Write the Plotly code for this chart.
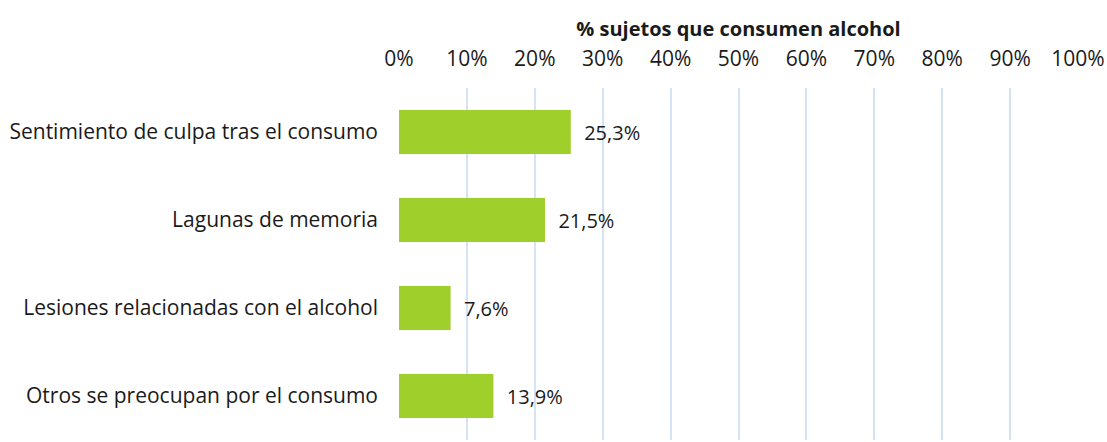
import plotly.graph_objects as go

categories = [
    "Sentimiento de culpa tras el consumo",
    "Lagunas de memoria",
    "Lesiones relacionadas con el alcohol",
    "Otros se preocupan por el consumo",
]
values = [25.3, 21.5, 7.6, 13.9]
tick_vals = [0, 10, 20, 30, 40, 50, 60, 70, 80, 90, 100]
tick_text = [f"{v}%" for v in tick_vals]

font_family = "Open Sans, Lato, sans-serif"
ink = "#1a1a1a"

fig = go.Figure()
fig.add_trace(go.Bar(
    x=values,
    y=categories,
    orientation="h",
    width=0.5,
    marker=dict(color="#9FCF2A", line=dict(width=0)),
    texttemplate="\u00a0\u00a0%{x:.1f}%",
    textposition="outside",
    textfont=dict(size=20, color=ink, family=font_family),
    cliponaxis=False,
))

fig.update_layout(
    width=1107, height=442,
    margin=dict(l=399, r=29, t=88, b=2, autoexpand=False),
    paper_bgcolor="white", plot_bgcolor="white",
    separators=",.",
    showlegend=False,
    font=dict(family=font_family, size=20, color=ink),
    xaxis=dict(
        side="top",
        range=[0, 100],
        tickvals=tick_vals,
        ticktext=tick_text,
        showgrid=True,
        gridcolor="#D6E3F5",
        gridwidth=2,
        zeroline=False,
        showline=False,
        ticks="",
        ticklabelstandoff=17,
        tickfont=dict(size=21, color=ink),
        title=dict(text="<b>% sujetos que consumen alcohol</b>",
                   font=dict(size=20, color=ink), standoff=1),
    ),
    yaxis=dict(
        autorange="reversed",
        showgrid=False,
        zeroline=False,
        showline=False,
        ticks="",
        ticklabelstandoff=20,
        tickfont=dict(size=21, color=ink),
    ),
)

# page body margin would otherwise push the figure 8px in
fig.write_html("out.html",
               config={"displayModeBar": False},
               post_script="document.body.style.margin='0';document.body.style.overflow='hidden';")
